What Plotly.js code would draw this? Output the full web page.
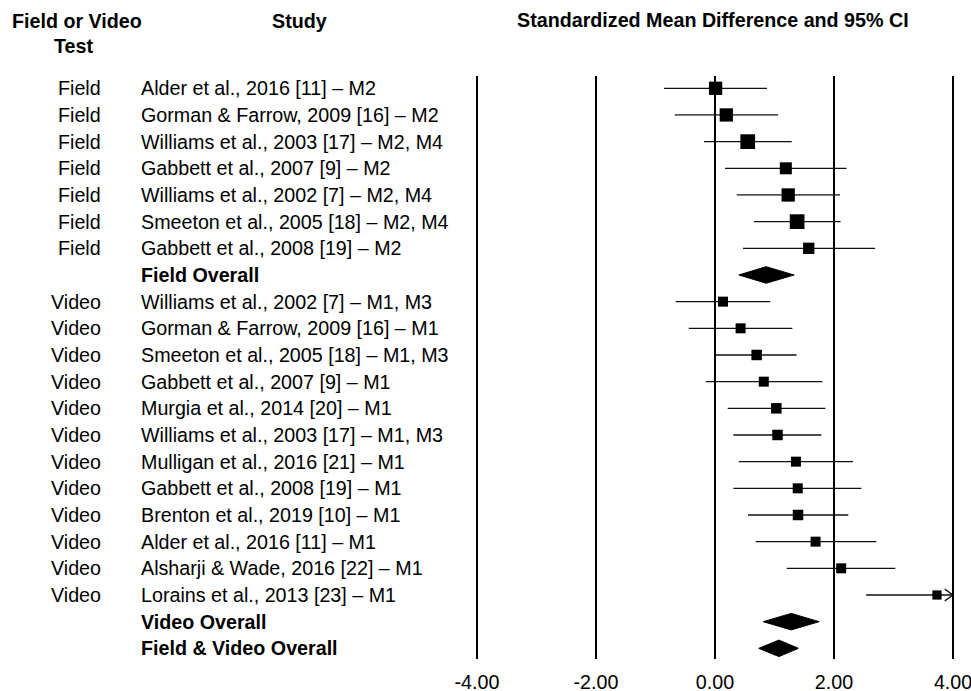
<!DOCTYPE html>
<html>
<head>
<meta charset="utf-8">
<script src="https://cdn.plot.ly/plotly-3.0.1.min.js"></script>
<style>html,body{margin:0;padding:0;background:#fff;}#chart{width:971px;height:691px;}</style>
</head>
<body>
<div id="chart"></div>
<script>
// ---- data ----
const testTypes = ['Field','Field','Field','Field','Field','Field','Field',
  'Video','Video','Video','Video','Video','Video','Video','Video','Video','Video','Video','Video'];
const studies = [
  'Alder et al., 2016 [11] – M2',
  'Gorman & Farrow, 2009 [16] – M2',
  'Williams et al., 2003 [17] – M2, M4',
  'Gabbett et al., 2007 [9] – M2',
  'Williams et al., 2002 [7] – M2, M4',
  'Smeeton et al., 2005 [18] – M2, M4',
  'Gabbett et al., 2008 [19] – M2',
  'Williams et al., 2002 [7] – M1, M3',
  'Gorman & Farrow, 2009 [16] – M1',
  'Smeeton et al., 2005 [18] – M1, M3',
  'Gabbett et al., 2007 [9] – M1',
  'Murgia et al., 2014 [20] – M1',
  'Williams et al., 2003 [17] – M1, M3',
  'Mulligan et al., 2016 [21] – M1',
  'Gabbett et al., 2008 [19] – M1',
  'Brenton et al., 2019 [10] – M1',
  'Alder et al., 2016 [11] – M1',
  'Alsharji & Wade, 2016 [22] – M1',
  'Lorains et al., 2013 [23] – M1'
];
const smd   = [0.01, 0.19, 0.55, 1.19, 1.23, 1.38, 1.575,
               0.135, 0.43, 0.70, 0.82, 1.03, 1.05, 1.36, 1.39, 1.395, 1.69, 2.12, 3.73];
const ciLow = [-0.857, -0.677, -0.185, 0.168, 0.365, 0.656, 0.47,
               -0.66, -0.44, 0.017, -0.156, 0.213, 0.309, 0.40, 0.309, 0.555, 0.684, 1.205, 2.54];
const ciHigh= [0.874, 1.059, 1.29, 2.21, 2.10, 2.11, 2.69,
               0.93, 1.30, 1.37, 1.805, 1.855, 1.788, 2.32, 2.46, 2.24, 2.71, 3.03, 4.92];
const relWeight = [1.33, 1.33, 1.47, 1.20, 1.33, 1.47, 1.13,
                   1.00, 1.00, 1.05, 1.00, 1.05, 1.05, 1.00, 1.00, 1.05, 1.00, 1.00, 0.92];
const overallLabels = ['Field Overall', 'Video Overall', 'Field & Video Overall'];
const overallEst  = [0.86, 1.28, 1.075];
const overallLow  = [0.40, 0.81, 0.735];
const overallHigh = [1.33, 1.75, 1.40];
const tickVals = [-4, -2, 0, 2, 4];
const tickText = ['-4.00', '-2.00', '0.00', '2.00', '4.00'];

// ---- row layout ----
const xMax = 4, xMin = -4;
const rows = [];
const overallRows = [];
let r = 0;
for (let i = 0; i < studies.length; i++) {
  rows.push(r); r++;
  if (i === 6) { overallRows.push(r); r++; }
}
overallRows.push(r); r++;
overallRows.push(r); r++;

const FONT = 'Liberation Sans, Arial, Helvetica, sans-serif';
const FS = 19.7;
const ink = '#000';

// whiskers
const wx = [], wy = [];
const arrowX = [], arrowY = [];
for (let i = 0; i < studies.length; i++) {
  const hi = Math.min(ciHigh[i], xMax);
  wx.push(Math.max(ciLow[i], xMin), hi, null);
  wy.push(rows[i], rows[i], null);
  if (ciHigh[i] > xMax) {
    arrowX.push(xMax - 0.14, xMax, xMax - 0.14, null);
    arrowY.push(rows[i] - 0.22, rows[i], rows[i] + 0.22, null);
  }
}
const traces = [];
traces.push({x: wx, y: wy, mode: 'lines', line: {color: '#111', width: 1.3}, hoverinfo: 'skip', showlegend: false});
traces.push({x: arrowX, y: arrowY, mode: 'lines', line: {color: '#111', width: 1.3}, hoverinfo: 'skip', showlegend: false});
traces.push({
  x: smd, y: rows, mode: 'markers', showlegend: false,
  marker: {symbol: 'square', color: ink, opacity: 1, size: relWeight.map(w => w * 10), line: {width: 0}}
});
// diamonds
const dh = 0.31;
for (let k = 0; k < overallEst.length; k++) {
  const y0 = overallRows[k];
  traces.push({
    x: [overallLow[k], overallEst[k], overallHigh[k], overallEst[k], overallLow[k]],
    y: [y0, y0 - dh, y0, y0 + dh, y0],
    mode: 'lines', fill: 'toself', fillcolor: ink, line: {color: ink, width: 1},
    hoverinfo: 'skip', showlegend: false
  });
}

// ---- annotations ----
const plotL = 471, plotW = 488, plotT = 76, plotH = 583;
const px2paperX = p => (p - plotL) / plotW;
const px2paperY = p => (plotT + plotH - p) / plotH;
const ann = [];
for (let i = 0; i < studies.length; i++) {
  ann.push({xref: 'paper', yref: 'y', x: px2paperX(103), y: rows[i], text: testTypes[i],
    showarrow: false, xanchor: 'right', yanchor: 'middle', font: {family: FONT, size: FS, color: ink}});
  ann.push({xref: 'paper', yref: 'y', x: px2paperX(139), y: rows[i], text: studies[i],
    showarrow: false, xanchor: 'left', yanchor: 'middle', font: {family: FONT, size: FS, color: ink}});
}
for (let k = 0; k < overallLabels.length; k++) {
  ann.push({xref: 'paper', yref: 'y', x: px2paperX(139), y: overallRows[k], text: '<b>' + overallLabels[k] + '</b>',
    showarrow: false, xanchor: 'left', yanchor: 'middle', font: {family: FONT, size: FS, color: ink}});
}
const hdr = [
  {t: 'Field or Video', x: 77, y: 21},
  {t: 'Test', x: 73, y: 46},
  {t: 'Study', x: 299, y: 21},
  {t: 'Standardized Mean Difference and 95% CI', x: 713, y: 20}
];
hdr.forEach(h => ann.push({xref: 'paper', yref: 'paper', x: px2paperX(h.x), y: px2paperY(h.y),
  text: '<b>' + h.t + '</b>', showarrow: false, xanchor: 'center', yanchor: 'middle',
  font: {family: FONT, size: FS, color: ink}}));

const layout = {
  width: 971, height: 691,
  margin: {l: plotL, r: 971 - plotL - plotW, t: plotT, b: 691 - plotT - plotH, pad: 0},
  paper_bgcolor: '#fff', plot_bgcolor: '#fff',
  showlegend: false,
  xaxis: {
    range: [-4.1, 4.1], tickvals: tickVals, ticktext: tickText,
    showgrid: true, gridcolor: '#000', gridwidth: 2, zeroline: false, showline: false,
    ticks: 'outside', ticklen: 5, tickcolor: 'rgba(0,0,0,0)',
    ticklabeloverflow: 'allow',
    tickfont: {family: FONT, size: FS, color: ink}, fixedrange: true
  },
  yaxis: {
    range: [21.4, -0.461], showgrid: false, zeroline: false, showline: false,
    showticklabels: false, ticks: '', fixedrange: true
  },
  annotations: ann
};
Plotly.newPlot('chart', traces, layout, {displayModeBar: false, staticPlot: true});
</script>
</body>
</html>
